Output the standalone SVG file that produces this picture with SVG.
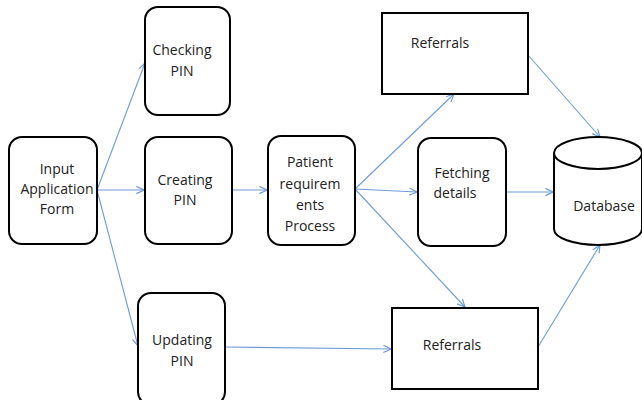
<svg xmlns="http://www.w3.org/2000/svg" width="642" height="400" viewBox="0 0 642 400">
<style>
.box{fill:#fff;stroke:#000;stroke-width:2}
.t{font-family:"Open Sans","Liberation Sans",sans-serif;font-size:14px;fill:#222;text-anchor:middle}
.c{fill:none;stroke:#6f9bd6;stroke-width:1.1}
</style>
<defs>
<marker id="a" viewBox="0 0 10 10" refX="9.5" refY="5" markerWidth="9" markerHeight="9" markerUnits="userSpaceOnUse" orient="auto">
<path d="M1,1 L9.5,5 L1,9" fill="none" stroke="#6f9bd6" stroke-width="1.3"/>
</marker>
</defs>
<rect width="642" height="400" fill="#fff"/>
<g id="connectors">
<line class="c" x1="97" y1="190" x2="145" y2="63" marker-end="url(#a)"/>
<line class="c" x1="97" y1="190" x2="144" y2="190" marker-end="url(#a)"/>
<line class="c" x1="97" y1="190" x2="138" y2="346" marker-end="url(#a)"/>
<line class="c" x1="232" y1="190" x2="267" y2="190" marker-end="url(#a)"/>
<line class="c" x1="355" y1="189" x2="454" y2="94" marker-end="url(#a)"/>
<line class="c" x1="355" y1="189" x2="417" y2="192" marker-end="url(#a)"/>
<line class="c" x1="355" y1="189" x2="465" y2="307" marker-end="url(#a)"/>
<line class="c" x1="528" y1="55" x2="600" y2="137" marker-end="url(#a)"/>
<line class="c" x1="506" y1="192" x2="553" y2="192" marker-end="url(#a)"/>
<line class="c" x1="538" y1="347" x2="600" y2="245" marker-end="url(#a)"/>
<line class="c" x1="225" y1="347" x2="391" y2="349" marker-end="url(#a)"/>
</g>
<g id="input">
<rect class="box" x="9" y="137" width="88" height="107" rx="13"/>
<text class="t" x="57" y="174">Input</text>
<text class="t" x="57" y="194">Application</text>
<text class="t" x="57" y="214">Form</text>
</g>
<g id="checking">
<rect class="box" x="145" y="7" width="85" height="108" rx="13"/>
<text class="t" x="182" y="55">Checking</text>
<text class="t" x="182" y="76">PIN</text>
</g>
<g id="creating">
<rect class="box" x="145" y="137" width="87" height="107" rx="13"/>
<text class="t" x="185" y="185">Creating</text>
<text class="t" x="185" y="205">PIN</text>
</g>
<g id="updating">
<rect class="box" x="138" y="293" width="87" height="112" rx="13"/>
<text class="t" x="182" y="345">Updating</text>
<text class="t" x="182" y="366">PIN</text>
</g>
<g id="patient">
<rect class="box" x="268" y="136" width="87" height="109" rx="13"/>
<text class="t" x="310" y="167">Patient</text>
<text class="t" x="310" y="189">requirem</text>
<text class="t" x="310" y="210">ents</text>
<text class="t" x="310" y="231">Process</text>
</g>
<g id="fetching">
<rect class="box" x="418" y="138" width="88" height="108" rx="13"/>
<text class="t" x="462" y="178">Fetching</text>
<text class="t" x="455" y="198">details</text>
</g>
<g id="referrals-top">
<rect class="box" x="382" y="13" width="146" height="81"/>
<text class="t" x="440" y="48">Referrals</text>
</g>
<g id="referrals-bottom">
<rect class="box" x="392" y="308" width="146" height="81"/>
<text class="t" x="452" y="350">Referrals</text>
</g>
<g id="database">
<path class="box" d="M554,153 L554,229 A44,16 0 0 0 642,229 L642,153"/>
<ellipse class="box" cx="598" cy="153" rx="44" ry="16"/>
<text class="t" x="604" y="211">Database</text>
</g>
</svg>
